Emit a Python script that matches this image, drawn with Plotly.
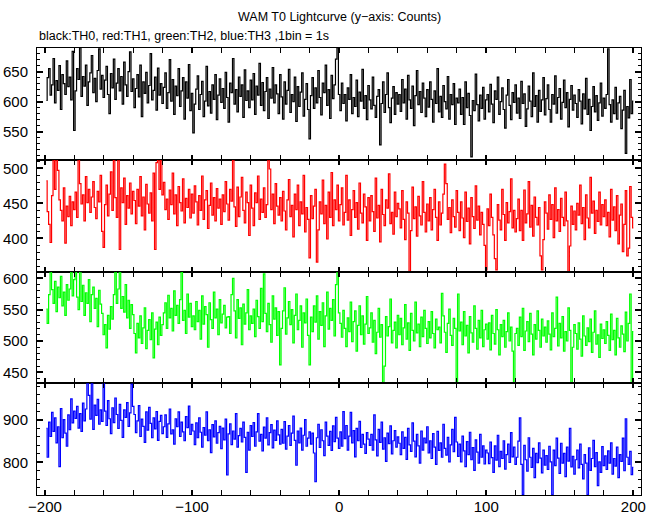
import plotly.graph_objects as go
from plotly.subplots import make_subplots

# bin start time (s), 1 bin = 1 s
t_start = -199

th0 = [
    602, 640, 655, 611, 628, 672, 598, 635, 619, 660, 587, 645, 630, 612, 668, 625, 641, 603, 684, 552,
    618, 655, 637, 690, 609, 642, 626, 661, 594, 633, 648, 677, 615, 639, 600, 652, 688, 621, 644, 607,
    636, 659, 612, 580, 647, 623, 671, 604, 631, 655, 618, 642, 596, 666, 628, 609, 650, 683, 617, 638,
    590, 622, 645, 608, 661, 575, 633, 614, 649, 598, 627, 680, 603, 619, 641, 586, 656, 611, 630, 597,
    624, 648, 589, 615, 670, 601, 637, 579, 626, 610, 655, 592, 618, 640, 571, 633, 606, 662, 585, 614,
    548, 596, 621, 643, 587, 612, 634, 575, 601, 659, 593, 617, 581, 628, 604, 645, 570, 611, 638, 599,
    622, 589, 649, 607, 566, 631, 615, 672, 596, 620, 583, 641, 609, 628, 574, 653, 602, 618, 590, 636,
    603, 647, 579, 626, 611, 664, 594, 632, 585, 617, 640, 572, 621, 606, 657, 598, 628, 613, 580, 645,
    608, 571, 633, 596, 619, 654, 582, 612, 600, 641, 567, 625, 592, 616, 648, 576, 604, 630, 587, 538,
    610, 640, 589, 623, 598, 652, 607, 578, 631, 615, 661, 594, 620, 572, 644, 605, 628, 671, 690, 612,
    585, 631, 597, 612, 568, 623, 604, 645, 580, 607, 592, 636, 575, 616, 601, 654, 589, 610, 570, 627,
    603, 588, 641, 594, 574, 609, 620, 528, 597, 633, 582, 612, 648, 590, 565, 606, 625, 579, 615, 596,
    612, 584, 637, 598, 621, 571, 644, 603, 589, 626, 560, 610, 652, 595, 617, 582, 631, 606, 575, 620,
    591, 633, 604, 566, 618, 597, 655, 583, 609, 574, 627, 600, 588, 642, 571, 612, 595, 630, 562, 606,
    598, 621, 579, 607, 562, 633, 590, 614, 577, 508, 602, 585, 646, 595, 568, 611, 589, 624, 571, 603,
    612, 583, 629, 596, 565, 618, 604, 641, 579, 600, 623, 587, 556, 611, 637, 594, 570, 615, 599, 628,
    581, 606, 572, 634, 597, 613, 559, 588, 626, 601, 575, 648, 592, 610, 566, 619, 584, 603, 640, 578,
    605, 628, 587, 566, 612, 596, 643, 581, 607, 622, 571, 599, 636, 590, 615, 558, 604, 627, 586, 611,
    597, 574, 620, 601, 563, 613, 588, 639, 579, 604, 552, 592, 625, 583, 610, 569, 598, 631, 576, 606,
    589, 612, 688, 595, 566, 603, 580, 624, 571, 598, 609, 555, 586, 619, 514, 592, 573, 637, 580, 601,
]

th1 = [
    482, 438, 420, 394, 461, 513, 470, 515, 497, 455, 440, 425, 472, 393, 446, 431, 460, 418, 452, 441,
    466, 430, 515, 478, 449, 462, 425, 488, 451, 470, 437, 459, 481, 444, 428, 467, 452, 490, 410, 387,
    448, 476, 432, 463, 495, 440, 515, 458, 430, 514, 384, 472, 451, 486, 420, 461, 443, 479, 435, 467,
    454, 421, 470, 446, 488, 432, 459, 412, 477, 449, 436, 465, 425, 493, 384, 508, 514, 470, 515, 462,
    480, 441, 456, 427, 469, 448, 493, 435, 462, 418, 474, 451, 439, 485, 422, 457, 444, 470, 429, 463,
    436, 475, 452, 419, 461, 440, 489, 427, 455, 468, 414, 447, 479, 433, 458, 425, 471, 443, 456, 420,
    462, 438, 481, 449, 426, 470, 453, 512, 445, 417, 473, 431, 459, 487, 440, 422, 466, 451, 404, 476,
    443, 418, 465, 451, 489, 427, 456, 437, 472, 430, 448, 514, 499, 441, 463, 421, 478, 446, 433, 458,
    425, 467, 439, 412, 455, 484, 431, 447, 402, 463, 441, 476, 418, 452, 435, 490, 409, 444, 427, 372,
    461, 428, 446, 470, 366, 412, 452, 435, 483, 421, 447, 399, 466, 430, 494, 418, 455, 441, 476, 425,
    448, 472, 419, 437, 490, 426, 455, 404, 441, 468, 430, 451, 413, 479, 436, 422, 463, 445, 397, 458,
    425, 461, 438, 410, 486, 429, 447, 395, 470, 434, 418, 455, 443, 492, 421, 437, 406, 466, 431, 450,
    442, 415, 468, 427, 398, 452, 436, 352, 411, 473, 428, 445, 403, 460, 432, 419, 481, 437, 409, 449,
    425, 458, 412, 441, 470, 430, 397, 452, 419, 436, 463, 506, 478, 427, 444, 408, 455, 431, 416, 468,
    437, 411, 452, 429, 401, 466, 424, 443, 392, 458, 431, 414, 475, 426, 446, 405, 437, 420, 390, 355,
    442, 418, 463, 430, 405, 371, 355, 448, 426, 412, 470, 434, 397, 451, 422, 438, 485, 415, 440, 409,
    428, 456, 411, 440, 397, 469, 422, 435, 481, 416, 447, 403, 459, 430, 419, 444, 375, 355, 398, 452,
    436, 413, 462, 427, 448, 401, 472, 425, 441, 410, 457, 430, 418, 466, 425, 352, 389, 446, 420, 439,
    412, 450, 433, 476, 421, 444, 398, 462, 429, 415, 487, 436, 453, 407, 440, 424, 466, 419, 448, 431,
    455, 418, 437, 402, 470, 426, 445, 411, 461, 392, 433, 449, 381, 420, 468, 375, 386, 474, 430, 415,
]

th2 = [
    551, 528, 574, 612, 582, 560, 595, 547, 586, 569, 603, 556, 578, 541, 590, 565, 583, 612, 572, 598,
    612, 570, 550, 611, 563, 589, 541, 577, 560, 598, 531, 574, 586, 552, 568, 523, 581, 559, 544, 510,
    526, 489, 541, 519, 555, 535, 574, 612, 560, 583, 612, 552, 571, 546, 590, 537, 565, 520, 558, 542,
    512, 481, 528, 505, 540, 496, 521, 553, 488, 517, 534, 502, 545, 473, 519, 530, 494, 538, 509, 526,
    545, 561, 520, 573, 537, 552, 516, 580, 541, 557, 528, 566, 610, 533, 549, 512, 575, 538, 560, 523,
    540, 518, 563, 531, 549, 503, 572, 527, 555, 542, 490, 561, 534, 520, 578, 537, 551, 510, 566, 529,
    543, 557, 521, 538, 539, 512, 574, 600, 548, 505, 566, 536, 553, 494, 559, 527, 545, 582, 518, 540,
    528, 551, 507, 565, 539, 520, 584, 531, 607, 544, 515, 560, 526, 498, 572, 535, 553, 509, 547, 462,
    520, 548, 585, 511, 537, 563, 526, 550, 497, 541, 575, 518, 533, 556, 490, 545, 529, 567, 509, 462,
    538, 515, 556, 530, 572, 503, 547, 525, 561, 491, 540, 578, 519, 552, 533, 566, 508, 590, 612, 545,
    528, 506, 549, 520, 491, 537, 515, 562, 499, 531, 548, 484, 525, 556, 510, 540, 495, 527, 571, 512,
    521, 545, 498, 533, 480, 514, 552, 506, 526, 433, 460, 539, 508, 523, 567, 497, 517, 530, 489, 541,
    510, 536, 494, 521, 558, 503, 529, 485, 544, 517, 500, 562, 513, 527, 491, 538, 507, 549, 520, 496,
    531, 505, 547, 512, 489, 535, 518, 522, 497, 576, 540, 514, 482, 528, 551, 509, 493, 536, 520, 433,
    575, 516, 530, 494, 547, 508, 525, 481, 539, 513, 498, 556, 520, 487, 533, 505, 549, 491, 518, 527,
    503, 529, 486, 541, 512, 495, 550, 518, 478, 526, 507, 533, 490, 515, 545, 500, 522, 484, 433, 512,
    520, 493, 538, 507, 552, 485, 516, 531, 499, 544, 511, 478, 526, 503, 548, 517, 490, 535, 508, 522,
    498, 532, 511, 486, 545, 507, 520, 570, 492, 528, 505, 539, 484, 515, 500, 553, 517, 433, 490, 526,
    512, 487, 529, 503, 476, 540, 508, 493, 521, 499, 535, 482, 514, 548, 495, 510, 474, 527, 504, 518,
    496, 531, 509, 485, 543, 502, 517, 478, 536, 505, 490, 524, 511, 483, 546, 500, 528, 575, 431, 515,
]

th3 = [
    880, 812, 895, 861, 918, 873, 905, 846, 884, 790, 927, 858, 901, 869, 838, 912, 877, 950, 893, 921,
    904, 932, 881, 915, 873, 940, 898, 926, 987, 958, 902, 986, 878, 935, 911, 949, 890, 924, 897, 987,
    921, 887, 946, 903, 868, 929, 894, 952, 913, 880, 937, 899, 859, 924, 906, 941, 885, 917, 985, 932,
    913, 870, 898, 934, 861, 902, 885, 847, 919, 876, 930, 892, 858, 905, 879, 920, 852, 897, 911, 868,
    884, 912, 859, 891, 926, 867, 877, 843, 903, 884, 919, 861, 895, 872, 851, 908, 882, 933, 866, 890,
    874, 842, 893, 858, 905, 871, 836, 882, 864, 919, 851, 877, 823, 889, 860, 898, 845, 870, 885, 832,
    881, 853, 902, 770, 867, 891, 842, 874, 855, 915, 836, 863, 880, 848, 895, 859, 776, 871, 829, 887,
    861, 894, 838, 872, 915, 850, 866, 827, 883, 857, 905, 841, 870, 889, 834, 876, 852, 898, 865, 843,
    878, 845, 896, 831, 862, 887, 840, 869, 909, 852, 793, 874, 846, 881, 829, 864, 901, 838, 857, 872,
    843, 869, 822, 754, 858, 890, 835, 877, 851, 816, 895, 862, 840, 873, 828, 886, 849, 906, 857, 833,
    872, 838, 920, 856, 887, 829, 862, 918, 846, 875, 813, 880, 851, 897, 835, 866, 843, 821, 870, 855,
    840, 866, 829, 912, 853, 815, 878, 847, 895, 831, 858, 802, 869, 844, 886, 820, 851, 875, 836, 860,
    845, 818, 872, 833, 859, 807, 880, 841, 826, 893, 850, 813, 866, 839, 798, 874, 829, 857, 846, 884,
    822, 851, 809, 868, 836, 795, 873, 828, 846, 812, 890, 833, 817, 859, 801, 841, 878, 825, 906, 848,
    814, 843, 801, 862, 827, 790, 849, 818, 871, 806, 835, 781, 853, 824, 798, 866, 812, 839, 796, 829,
    822, 797, 848, 811, 776, 839, 805, 864, 790, 826, 809, 851, 784, 818, 843, 800, 870, 813, 836, 795,
    812, 850, 905, 795, 723, 840, 806, 779, 858, 812, 788, 833, 764, 821, 799, 846, 810, 775, 829, 793,
    816, 783, 838, 801, 723, 829, 792, 857, 810, 774, 845, 798, 821, 766, 836, 803, 880, 789, 814, 772,
    806, 829, 787, 843, 795, 761, 818, 798, 723, 834, 781, 809, 852, 790, 823, 745, 801, 776, 837, 792,
    815, 783, 827, 798, 846, 772, 809, 791, 836, 764, 818, 802, 857, 780, 903, 812, 795, 826, 771, 788,
]

series_names = ["TH0", "TH1", "TH2", "TH3"]
series_values = [th0, th1, th2, th3]
series_colors = ["#000000", "#ff0000", "#00ff00", "#0000ff"]
y_ranges = [[503.3, 689.5], [352.6, 512.2], [432.6, 610.9], [722.7, 986.9]]
y_major = [50, 50, 50, 100]
y_minor = [10, 10, 10, 20]
x_range = [-205.4, 205.2]

title_text = "WAM T0 Lightcurve (y\u2212axis: Counts)"
subtitle_text = "black:TH0, red:TH1, green:TH2, blue:TH3 ,1bin = 1s"

FONT = "Liberation Sans, Arial, Helvetica, sans-serif"

fig = make_subplots(rows=4, cols=1, shared_xaxes=True, vertical_spacing=0)

for i, (name, vals, col) in enumerate(zip(series_names, series_values, series_colors)):
    xs = list(range(t_start, t_start + len(vals)))
    fig.add_trace(
        go.Scatter(x=xs, y=vals, mode="lines", name=name,
                   line=dict(color=col, width=1.2, shape="hvh"),
                   showlegend=False, hoverinfo="skip"),
        row=i + 1, col=1,
    )
    fig.update_yaxes(
        range=y_ranges[i], tick0=0, dtick=y_major[i],
        ticks="inside", ticklen=6, tickwidth=1.5, tickcolor="black",
        minor=dict(dtick=y_minor[i], tick0=0, ticks="inside", ticklen=3,
                   tickwidth=1, tickcolor="black", showgrid=False),
        showline=True, linecolor="black", linewidth=1, mirror="allticks",
        showgrid=False, zeroline=False,
        tickfont=dict(family=FONT, size=15, color="black"),
        ticklabelstandoff=5,
        row=i + 1, col=1,
    )
    fig.update_xaxes(
        range=x_range, tick0=0, dtick=100,
        ticks="inside", ticklen=5, tickwidth=1.5, tickcolor="black",
        minor=dict(dtick=20, tick0=0, ticks="inside", ticklen=5,
                   tickwidth=1, tickcolor="black", showgrid=False),
        showline=True, linecolor="black", linewidth=1, mirror="allticks",
        showgrid=False, zeroline=False,
        showticklabels=(i == 3),
        tickfont=dict(family=FONT, size=15, color="black"),
        ticklabelstandoff=-2,
        row=i + 1, col=1,
    )

fig.update_layout(
    width=660, height=515,
    margin=dict(l=37, r=19, t=48, b=20, autoexpand=False),
    paper_bgcolor="white", plot_bgcolor="white",
    font=dict(family=FONT, size=13, color="black"),
    showlegend=False,
    annotations=[
        dict(text=title_text, xref="paper", yref="paper", x=0.5, y=1 + (48 - 17) / 447,
             xanchor="center", yanchor="middle", showarrow=False,
             font=dict(family=FONT, size=12.5, color="black")),
        dict(text=subtitle_text, xref="paper", yref="paper", x=0, y=1 + (48 - 36) / 447,
             xanchor="left", yanchor="middle", showarrow=False,
             font=dict(family=FONT, size=12.5, color="black")),
    ],
)

# remove the browser's default 8px body margin so the figure fills the window
fig.write_html(
    "out.html",
    config={"displayModeBar": False},
    post_script="document.body.style.margin='0px';document.body.style.overflow='hidden';",
)
